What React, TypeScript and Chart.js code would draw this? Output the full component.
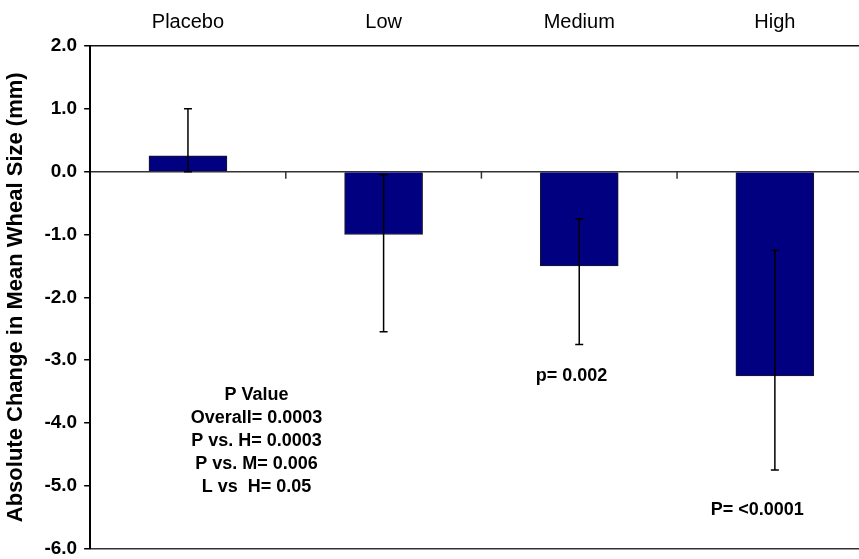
import React, { useEffect, useRef } from "react";
import { Chart, registerables } from "chart.js";

Chart.register(...registerables);

const categories = ["Placebo", "Low", "Medium", "High"];
const meanChange = [0.25, -1.0, -1.5, -3.25];
const errorLow = [0.0, -2.55, -2.75, -4.75];
const errorHigh = [1.0, -0.05, -0.75, -1.25];
const yTickValues = [2, 1, 0, -1, -2, -3, -4, -5, -6];
const yTitle = "Absolute Change in Mean Wheal Size (mm)";
const pValueLines = ["P Value", "Overall= 0.0003", "P vs. H= 0.0003", "P vs. M= 0.006", "L vs  H= 0.05"];
const mediumNote = ["p= 0.002"];
const highNote = ["P= <0.0001"];
const noteX = [0.35, 1.96, 2.91];
const noteY = [-3.56, -3.25, -5.38];

const FONT = "'Liberation Sans', Arial, Helvetica, sans-serif";

const overlayPlugin = {
  id: "overlay",
  afterDatasetsDraw(chart: any) {
    const { ctx } = chart;
    const xs = chart.scales.x;
    const ys = chart.scales.y;
    ctx.save();
    // category boundary tick marks on the zero line
    const y0 = ys.getPixelForValue(0);
    ctx.strokeStyle = "#333";
    ctx.lineWidth = 1.5;
    for (let i = 0; i < categories.length - 1; i++) {
      const x = xs.getPixelForValue(i + 0.5);
      ctx.beginPath();
      ctx.moveTo(x, y0);
      ctx.lineTo(x, y0 + 7);
      ctx.stroke();
    }
    // error bars
    ctx.strokeStyle = "#000";
    ctx.lineWidth = 1.5;
    for (let i = 0; i < categories.length; i++) {
      const x = xs.getPixelForValue(i);
      const yl = ys.getPixelForValue(errorLow[i]);
      const yh = ys.getPixelForValue(errorHigh[i]);
      ctx.beginPath();
      ctx.moveTo(x, yl);
      ctx.lineTo(x, yh);
      ctx.moveTo(x - 4, yl);
      ctx.lineTo(x + 4, yl);
      ctx.moveTo(x - 4, yh);
      ctx.lineTo(x + 4, yh);
      ctx.stroke();
    }
    // annotations
    ctx.fillStyle = "#000";
    ctx.font = `bold 18px ${FONT}`;
    ctx.textAlign = "center";
    ctx.textBaseline = "middle";
    const notes = [pValueLines, mediumNote, highNote];
    notes.forEach((lines, k) => {
      const cx = xs.getPixelForValue(noteX[k]);
      const cy = ys.getPixelForValue(noteY[k]);
      lines.forEach((line, j) => {
        ctx.fillText(line, cx, cy + j * 23);
      });
    });
    ctx.restore();
  },
};

export default function App() {
  const canvasRef = useRef<HTMLCanvasElement | null>(null);

  useEffect(() => {
    if (!canvasRef.current) return;
    const chart = new Chart(canvasRef.current, {
      type: "bar",
      data: {
        datasets: [
          {
            data: meanChange.map((v, i) => ({ x: i, y: v })),
            backgroundColor: "#000080",
            borderColor: "#1a1a1a",
            borderWidth: 1,
            barThickness: 78,
          },
        ],
      },
      options: {
        animation: false,
        responsive: true,
        maintainAspectRatio: false,
        layout: { padding: { left: 0, right: 0, top: -2, bottom: 0 } },
        plugins: {
          legend: { display: false },
          tooltip: { enabled: false },
        },
        scales: {
          x: {
            type: "linear",
            position: "top",
            offset: false,
            min: -0.5,
            max: 3.43,
            afterBuildTicks: (s: any) => {
              s.ticks = categories.map((_, i) => ({ value: i }));
            },
            ticks: {
              callback: (v: any) => categories[v] ?? "",
              color: "#000",
              font: { family: FONT, size: 20 },
              padding: 12,
              maxRotation: 0,
              autoSkip: false,
            },
            grid: { display: false, drawTicks: false, offset: false },
            border: { display: true, color: "#111", width: 1.5 },
          },
          y: {
            min: -6,
            max: 2,
            afterBuildTicks: (s: any) => {
              s.ticks = yTickValues.map((v) => ({ value: v }));
            },
            ticks: {
              callback: (v: any) => Number(v).toFixed(1),
              color: "#000",
              font: { family: FONT, size: 19, weight: "bold" },
              padding: 7,
            },
            grid: {
              drawOnChartArea: true,
              color: (c: any) =>
                c.tick && (c.tick.value === 0 || c.tick.value === -6) ? "#333" : "rgba(0,0,0,0)",
              lineWidth: 1.5,
              tickColor: "#000",
              tickLength: 6,
              tickWidth: 1.5,
            },
            border: { display: true, color: "#000", width: 2 },
            title: {
              display: true,
              text: yTitle,
              color: "#000",
              font: { family: FONT, size: 22, weight: "bold" },
              padding: { top: 3, bottom: 8 },
            },
          },
        },
      },
      plugins: [overlayPlugin],
    });
    return () => chart.destroy();
  }, []);

  return (
    <div style={{ position: "fixed", left: 0, top: 0, width: 859, height: 567, background: "#fff" }}>
      <canvas ref={canvasRef} />
    </div>
  );
}
